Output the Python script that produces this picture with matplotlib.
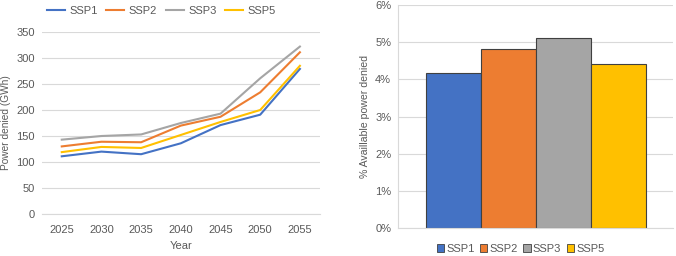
import matplotlib.pyplot as plt
import numpy as np

plt.rcParams['font.family'] = ['Liberation Sans', 'DejaVu Sans']

years = ['2025', '2030', '2035', '2040', '2045', '2050', '2055']
ssp1 = [111, 120, 115, 136, 171, 191, 279]
ssp2 = [130, 139, 138, 170, 187, 234, 311]
ssp3 = [143, 150, 153, 175, 193, 261, 322]
ssp5 = [119, 129, 127, 152, 177, 200, 285]

scenarios = ['SSP1', 'SSP2', 'SSP3', 'SSP5']
pct_denied = [4.18, 4.83, 5.12, 4.42]

colors = ['#4472C4', '#ED7D31', '#A5A5A5', '#FFC000']
txt = '#595959'
grid = '#D9D9D9'
fs = 8

fig = plt.figure(figsize=(6.76, 2.56), dpi=100)

# left: line chart
ax1 = fig.add_axes([0.062, 0.164, 0.411, 0.711])
x = np.arange(len(years))
for s, c, name in zip([ssp1, ssp2, ssp3, ssp5], colors, scenarios):
    ax1.plot(x, s, color=c, lw=1.5, label=name)
ax1.set_xlim(-0.5, len(years) - 0.5)
ax1.set_ylim(0, 350)
ax1.set_yticks(range(0, 351, 50))
ax1.set_xticks(x)
ax1.set_xticklabels(years)
ax1.yaxis.grid(True, color=grid, lw=0.8)
ax1.set_axisbelow(True)
for sp in ['top', 'right', 'left']:
    ax1.spines[sp].set_visible(False)
ax1.spines['bottom'].set_color(grid)
ax1.tick_params(axis='x', length=0, colors=txt, labelsize=fs, pad=8)
ax1.tick_params(axis='y', length=0, colors=txt, labelsize=fs, pad=5)
ax1.set_xlabel('Year', color=txt, fontsize=fs, labelpad=4)
ax1.set_ylabel('Power denied (GWh)', color=txt, fontsize=7.3, labelpad=4)
ax1.legend(loc='lower center', bbox_to_anchor=(0.43, 1.09), ncol=4, frameon=False,
           fontsize=fs, labelcolor=txt, handlelength=1.6, columnspacing=0.8,
           handletextpad=0.4, borderaxespad=0, borderpad=0)

# right: bar chart
ax2 = fig.add_axes([0.589, 0.109, 0.407, 0.871])
bx = np.arange(len(scenarios))
ax2.bar(bx, pct_denied, width=1.0, color=colors, edgecolor='#404040', lw=0.8)
ax2.set_xlim(-1.0, 4.0)
ax2.set_ylim(0, 6)
ax2.set_yticks(range(0, 7))
ax2.set_yticklabels([f'{v}%' for v in range(0, 7)])
ax2.set_xticks([])
ax2.yaxis.grid(True, color=grid, lw=0.8)
ax2.set_axisbelow(True)
for sp in ['top', 'right']:
    ax2.spines[sp].set_visible(False)
ax2.spines['left'].set_color(grid)
ax2.spines['bottom'].set_color(grid)
ax2.tick_params(length=0, colors=txt, labelsize=fs, pad=5)
ax2.set_ylabel('% Availlable power denied', color=txt, fontsize=7.6, labelpad=4)
handles = [plt.Rectangle((0, 0), 1, 1, facecolor=c, edgecolor='#404040', lw=0.6) for c in colors]
ax2.legend(handles, scenarios, loc='upper center', bbox_to_anchor=(0.445, -0.07), ncol=4,
           frameon=False, fontsize=fs, labelcolor=txt, handlelength=0.65, handleheight=0.65,
           columnspacing=0.5, handletextpad=0.2, borderaxespad=0, borderpad=0)

fig.savefig('out.png', dpi=100)
